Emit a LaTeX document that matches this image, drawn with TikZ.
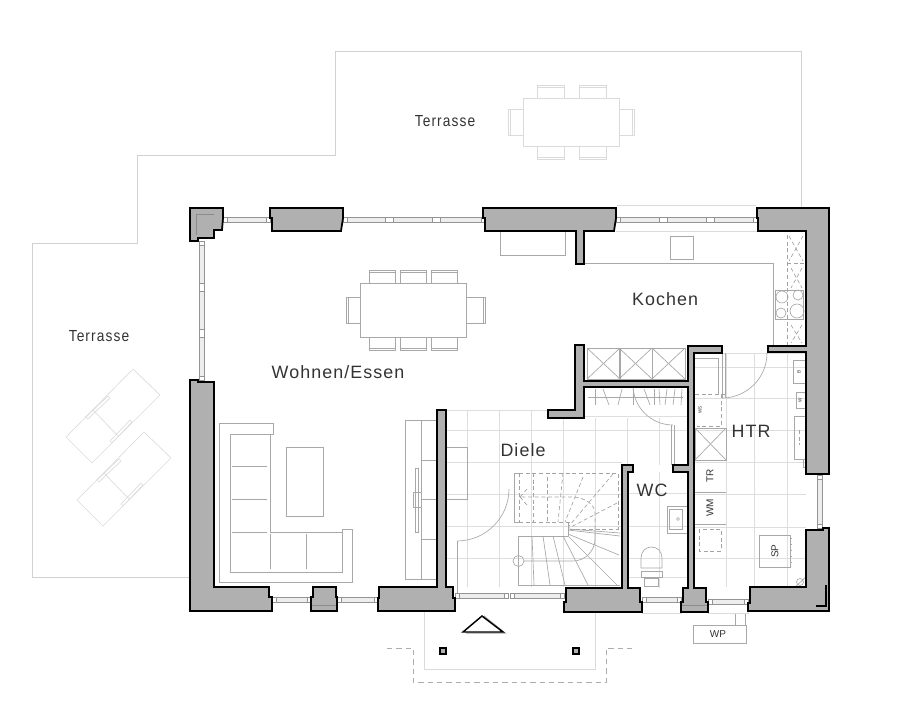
\documentclass[tikz,border=0pt]{standalone}
\usepackage{fontspec}
\newfontfamily\roomfont[LetterSpace=6]{Liberation Sans}
\newfontfamily\terrfont[LetterSpace=8]{Liberation Sans}
\newfontfamily\tagfont{Liberation Sans}
\definecolor{wallgray}{HTML}{B0B0B0}
\definecolor{inkgray}{HTML}{333333}
\tikzset{
  wall/.style={draw=black,fill=wallgray,line width=1.3pt,line join=miter},
  terrace/.style={draw=black!18,line width=0.5pt},
  tile/.style={draw=black!13,line width=0.6pt},
  furn/.style={draw=black!34,line width=0.5pt},
  outdoor/.style={draw=black!14,line width=0.5pt},
  hidden/.style={draw=black!36,line width=0.5pt,dash pattern=on 3pt off 2pt},
  win/.style={draw=black!42,fill=black!7,line width=0.4pt},
  winframe/.style={draw=black!42,fill=white,line width=0.4pt},
  wallseam/.style={draw=black!45,line width=0.4pt},
  room/.style={inner sep=0pt,text=inkgray,font=\roomfont\fontsize{13.4}{16}\selectfont},
  terr/.style={inner sep=0pt,text=inkgray,font=\terrfont\fontsize{12}{14}\selectfont},
  smalltag/.style={inner sep=0pt,text=inkgray,font=\tagfont\fontsize{7.5}{9}\selectfont},
  tinytag/.style={inner sep=0pt,text=inkgray,font=\tagfont\fontsize{3.5}{4}\selectfont},
}
\begin{document}
\begin{tikzpicture}[x=0.75pt,y=0.75pt,yscale=-1,xscale=1]
\useasboundingbox (0,0) rectangle (899,713);

% Terraces
\draw [terrace] (801,208) -- (801,51) -- (335,51) -- (335,155) -- (137,155) -- (137,243) -- (32,243) -- (32,577) -- (190,577);

% Terrace table
\draw [outdoor] (523,98) rectangle (619,146);
\foreach \cx in {537,579} {
  \draw [outdoor] (\cx,98) -- (\cx,85) -- (\cx+27,85) -- (\cx+27,98);
  \draw [outdoor] (\cx,87) -- (\cx+27,87);
  \draw [outdoor] (\cx,146) -- (\cx,159) -- (\cx+27,159) -- (\cx+27,146);
  \draw [outdoor] (\cx,157) -- (\cx+27,157);
}
\draw [outdoor] (523,109) -- (508,109) -- (508,135) -- (523,135);
\draw [outdoor] (510,109) -- (510,135);
\draw [outdoor] (619,109) -- (634,109) -- (634,135) -- (619,135);
\draw [outdoor] (632,109) -- (632,135);

% Sun loungers
\foreach \dx/\dy in {0/0,11/63} {
  \begin{scope}[shift={(\dx,\dy)}]
    \draw [outdoor] (133,369) -- (160,395) -- (92,463) -- (66,437) -- cycle;
    \draw [outdoor] (93,410) -- (118,436);
    \draw [outdoor] (86,417) -- (108,396) -- (110,398) -- (88,419) -- cycle;
    \draw [outdoor] (110,441) -- (130,420) -- (132,422) -- (112,443) -- cycle;
  \end{scope}
}

% Tiles hall
\foreach \tx in {467,499,531,563} \draw [tile] (\tx,410) -- (\tx,587);
\foreach \tx in {595} \draw [tile] (\tx,418) -- (\tx,587);
\draw [tile] (627,418) -- (627,465);
\draw [tile] (659,418) -- (659,465);
\draw [tile] (659,472) -- (659,588);
\draw [tile] (446,410) -- (548,410);
\draw [tile] (584,416) -- (688,416);
\foreach \ty in {430} \draw [tile] (446,\ty) -- (688,\ty);
\foreach \ty in {462,494,526,558} \draw [tile] (446,\ty) -- (622,\ty);
\foreach \ty in {493,526,558,577} \draw [tile] (628,\ty) -- (688,\ty);

% Tiles HTR
\foreach \tx in {726,754,787} \draw [tile] (\tx,353) -- (\tx,587);
\foreach \ty in {353,367,398,430,462,494,527,558} \draw [tile] (695,\ty) -- (806,\ty);

% Dining
\draw [furn] (360,283) rectangle (466,337);
\foreach \cx in {369,400,431} {
  \draw [furn] (\cx,283) -- (\cx,270) -- (\cx+26,270) -- (\cx+26,283);
  \draw [furn] (\cx,272) -- (\cx+26,272);
  \draw [furn] (\cx,337) -- (\cx,350) -- (\cx+26,350) -- (\cx+26,337);
  \draw [furn] (\cx,348) -- (\cx+26,348);
}
\draw [furn] (360,297) -- (346,297) -- (346,323) -- (360,323);
\draw [furn] (348,297) -- (348,323);
\draw [furn] (466,297) -- (485,297) -- (485,323) -- (466,323);
\draw [furn] (483,297) -- (483,323);

% Sideboard
\draw [furn] (500,231) -- (500,255) -- (565,255) -- (565,231);

% Sofa
\draw [furn] (219,423) -- (273,423) -- (273,434) -- (270,434) -- (270,532) -- (342,532) -- (342,529) -- (352,529) -- (352,582) -- (219,582) -- cycle;
\draw [furn] (270,434) -- (230,434) -- (230,572) -- (342,572) -- (342,532);
\draw [furn] (232,466) -- (267,466);
\draw [furn] (232,499) -- (267,499);
\draw [furn] (232,532) -- (267,532);
\draw [furn] (270,534) -- (270,569);
\draw [furn] (306,534) -- (306,569);
\draw [furn] (286,447) rectangle (323,516);

% TV unit
\draw [furn] (437,420) -- (405,420) -- (405,579) -- (437,579);
\draw [furn] (421,420) -- (421,579);
\foreach \ty in {460,499,539} \draw [furn] (421,\ty) -- (437,\ty);
\draw [furn] (415,468) rectangle (418,532);
\draw [furn] (413,492) rectangle (421,507);

% Bench hall
\draw [furn] (447,447) -- (467,447) -- (467,499) -- (447,499);

% Stairs, lower flight
\draw [furn] (568,536) -- (518,536) -- (518,585) -- (620,585);
\draw [furn] (532,536) -- (534,585);
\draw [furn] (543,536) -- (550,585);
\draw [furn] (553,536) -- (565,585);
\draw [furn] (563,536) -- (588,585);
\draw [furn] (568,536) -- (617,585);
\draw [furn] (568,534) -- (619,555);
\draw [furn] (568,530) -- (620,536);
\draw [furn] (568,529) -- (620,533);
\draw [furn] (568,536) -- (568,522);
\draw [furn] (524,561) -- (573,561) .. controls (585,561) and (595,551) .. (595,539) -- (595,529);
\draw [furn] (518.5,561) circle (5.5);
% Stairs, upper flight
\draw [furn] (519,473) -- (514,473) -- (514,522) -- (519,522);
\draw [hidden] (519,473) -- (618,473) -- (618,529) -- (570,529);
\draw [hidden] (519,522) -- (571,522);
\draw [hidden] (519,473) -- (519,522);
\draw [hidden] (533,473) -- (533,522);
\draw [hidden] (547,477) -- (547,522);
\draw [hidden] (563,473) -- (558,522);
\draw [hidden] (583,477) -- (565,522);
\draw [hidden] (613,474) -- (569,526);
\draw [hidden] (617,503) -- (569,528);
\draw [hidden] (595,529) -- (595,513) .. controls (595,505) and (585,497) .. (572,497) -- (520,497);
\draw [hidden] (520,497) -- (527,489);
\draw [hidden] (520,497) -- (527,505);

% Front door
\draw [furn] (457,541) -- (457,595);
\draw [furn] (457,541) arc [start angle=90,end angle=0,radius=52];

% Closets
\foreach \bx in {587,619,652} {
  \draw [furn] (\bx,348) rectangle (\bx+33,379);
  \draw [furn] (\bx,348) -- (\bx+33,379);
  \draw [furn] (\bx,379) -- (\bx+33,348);
}
\draw [furn] (588,397) -- (683,397);
\foreach \ha/\hb in {595/595,603/609,622/618,633/633,644/650,654/654,659/660,667/665,675/673,682/681} \draw [furn] (\ha,389) -- (\hb,405);

% Kitchen
\draw [furn] (584,263) -- (773,263) -- (773,345);
\draw [furn] (670,236) rectangle (693,259);
\draw [furn] (775,290) rectangle (803,319);
\draw [furn] (782,297) circle (6);
\draw [furn] (798,295) circle (5);
\draw [furn] (781,313) circle (5);
\draw [furn] (797,311) circle (7);
\draw [hidden] (787,235) -- (787,345);
\draw [hidden] (787,263) -- (805,263);
\draw [hidden] (789,236) -- (803,261);
\draw [hidden] (803,236) -- (789,261);
\draw [hidden] (791,268) -- (802,288);
\draw [hidden] (802,268) -- (791,288);
\draw [hidden] (791,325) -- (802,343);
\draw [hidden] (802,325) -- (791,343);

% HTR cabinets
\draw [furn] (695,358) -- (718,358) -- (718,394);
\draw [furn] (695,428) rectangle (726,460);
\draw [furn] (695,428) -- (726,460);
\draw [furn] (695,460) -- (726,428);
\draw [furn] (695,492) -- (726,492);
\draw [furn] (695,524) -- (726,524);
\draw [hidden] (695,394) -- (725,394);
\draw [hidden] (721,394) -- (721,426) -- (697,426);
\draw [hidden] (699,529) rectangle (721,551);
\draw [furn] (793,360) rectangle (805,383);
\draw [furn] (796,392) rectangle (805,408);
\draw [furn] (794,416) rectangle (805,459);
\draw [furn] (803,459) rectangle (805,467);
\draw [hidden] (799,430) -- (799,445);
\draw [furn] (759,535) -- (790,535) -- (790,567) -- (759,567) -- cycle;
\foreach \ty in {538,544,550,556,562} \draw [furn] (790,\ty) -- (792,\ty);
\draw [furn] (800,582) circle (3.5);
\draw [furn] (790,592) -- (811,572);

% Inner doors
\draw [furn] (722,353) -- (722,398);
\draw [furn] (725,353) -- (725,398);
\draw [furn] (722,398) arc [start angle=90,end angle=0,radius=45];
\draw [furn] (671,425) -- (671,465);
\draw [furn] (674,425) -- (674,465);
\draw [furn] (673,425) arc [start angle=90,end angle=180,radius=40];

% WC
\draw [furn] (688,506) -- (667,506) -- (667,533) -- (688,533);
\draw [furn] (669,509) rectangle (682,529);
\draw [furn] (678,519) circle (1.5);
\draw [furn] (641,568) -- (641,558) .. controls (641,551) and (646,547) .. (651.5,547) .. controls (657,547) and (662,551) .. (662,558) -- (662,568) -- cycle;
\draw [furn] (641,571) rectangle (662,577);
\draw [furn] (644,578) rectangle (658,586);

% WP box
\draw [furn] (693,625) rectangle (746,643);
\draw [furn] (735,613) -- (735,625);
\draw [furn] (745,613) -- (745,625);

% Entrance
\draw [outdoor] (424,611) -- (424,669) -- (595,669) -- (595,611);
\draw [draw=black!32,line width=0.5pt,dash pattern=on 4pt off 3pt] (387,648) -- (413,648) -- (413,682) -- (606,682) -- (606,648) -- (632,648);
\draw [draw=black!35,line width=0.8pt] (484,616) -- (505,633) -- (466,633);
\draw [draw=black,line width=1.1pt,line join=miter] (482,616) -- (463,632) -- (503,632) -- cycle;
\draw [draw=black,fill=wallgray,line width=1.1pt] (440,648) rectangle (446,654);
\draw [draw=black,fill=wallgray,line width=1.1pt] (573,648) rectangle (579,654);

% Sills
\draw [outdoor] (617,205) -- (756,205);
\draw [outdoor] (616,231) -- (758,231);
\draw [outdoor] (642,612) -- (642,613) -- (681,613) -- (681,612);
\draw [outdoor] (708,612) -- (708,613) -- (748,613) -- (748,612);

% Windows, horizontal
\foreach \xa/\xb/\ya in {223/270/217,343/485/217,616/757/217,272/311/597,337/378/597,455/508/593,510/564/593,642/681/597,708/748/599} {
  \draw [win] (\xa,\ya) rectangle (\xb,\ya+5);
  \draw [winframe] (\xa,\ya) rectangle (\xa+4,\ya+5);
  \draw [winframe] (\xb-4,\ya) rectangle (\xb,\ya+5);
}
\foreach \xa/\ya in {389/217,436/217,663/217,710/217} \draw [winframe] (\xa-4,\ya) rectangle (\xa+4,\ya+5);
% Windows, vertical
\foreach \ya/\yb/\xa in {241/380/199,475/528/817} {
  \draw [win] (\xa,\ya) rectangle (\xa+5,\yb);
  \draw [winframe] (\xa,\ya) rectangle (\xa+5,\ya+4);
  \draw [winframe] (\xa,\yb-4) rectangle (\xa+5,\yb);
}
\foreach \ya in {287,333} \draw [winframe] (199,\ya-4) rectangle (204,\ya+4);

% Walls
\draw [wall] (190,208) -- (223,208) -- (223,218) -- (222,230) -- (214,230) -- (214,238) -- (198,238) -- (198,241) -- (190,241) -- cycle;
\draw [wall] (270,208) -- (343,208) -- (343,218) -- (341,231) -- (272,231) -- (272,218) -- (270,218) -- cycle;
\draw [wall] (483,208) -- (616,208) -- (616,218) -- (614,231) -- (584,231) -- (584,264) -- (576,264) -- (576,231) -- (485,231) -- (485,218) -- (483,218) -- cycle;
\draw [wall] (757,208) -- (829,208) -- (829,474) -- (806,474) -- (806,352) -- (768,352) -- (768,346) -- (806,346) -- (806,231) -- (758,231) -- (758,218) -- (757,218) -- cycle;
\draw [wall] (806,530) -- (823,530) -- (823,528) -- (829,528) -- (829,611) -- (748,611) -- (748,603) -- (750,603) -- (750,587) -- (806,587) -- cycle;
\draw [wall] (190,380) -- (198,380) -- (198,382) -- (214,382) -- (214,587) -- (269,587) -- (269,597) -- (272,597) -- (272,611) -- (190,611) -- cycle;
\draw [wall] (313,587) -- (336,587) -- (336,597) -- (337,597) -- (337,611) -- (311,611) -- (311,597) -- (313,597) -- cycle;
\draw [wall] (437,410) -- (446,410) -- (446,587) -- (453,587) -- (453,598) -- (455,598) -- (455,611) -- (378,611) -- (378,598) -- (379,598) -- (379,587) -- (437,587) -- cycle;
\draw [wall] (575,345) -- (584,345) -- (584,381) -- (688,381) -- (688,346) -- (722,346) -- (722,353) -- (694,353) -- (694,588) -- (706,588) -- (706,602) -- (708,602) -- (708,612) -- (681,612) -- (681,602) -- (683,602) -- (683,588) -- (688,588) -- (688,472) -- (673,472) -- (673,465) -- (688,465) -- (688,387) -- (584,387) -- (584,418) -- (548,418) -- (548,410) -- (575,410) -- cycle;
\draw [wall] (622,465) -- (633,465) -- (633,472) -- (628,472) -- (628,588) -- (640,588) -- (640,602) -- (642,602) -- (642,612) -- (564,612) -- (564,602) -- (566,602) -- (566,588) -- (622,588) -- cycle;

% Wall seams
\draw [wallseam] (214,214) -- (196,214) -- (196,235);
\draw [wallseam] (312,605) -- (336,605);
\draw [wallseam] (682,605) -- (707,605);
\draw [line width=0.9pt] (826,585) -- (826,606) -- (816,606);

% Text Node
\draw (445,121) node (terrasseN) [terr] {\scalebox{0.86}[1]{Terrasse}};
% Text Node
\draw (99,336) node (terrasseW) [terr] {\scalebox{0.86}[1]{Terrasse}};
% Text Node
\draw (338,372) node (wohnen) [room] {Wohnen/Essen};
% Text Node
\draw (665,299) node (kochen) [room] {Kochen};
% Text Node
\draw (523,450) node (diele) [room] {Diele};
% Text Node
\draw (652,490) node (wc) [room] {WC};
% Text Node
\draw (751,431) node (htr) [room] {HTR};
% Text Node
\draw (710,476) node (tr) [smalltag,rotate=90] {TR};
\draw (710,508) node (wm) [smalltag,rotate=90] {WM};
\draw (775,551) node (sp) [smalltag,rotate=90] {SP};
\draw (718,634) node (wp) [smalltag] {WP};
\draw (700,410) node (ws) [tinytag,rotate=90] {WS};
\draw (799,372) node (bx) [tinytag,rotate=90] {B};
\draw (800,400) node (wx) [tinytag,rotate=90] {W};
\end{tikzpicture}
\end{document}
